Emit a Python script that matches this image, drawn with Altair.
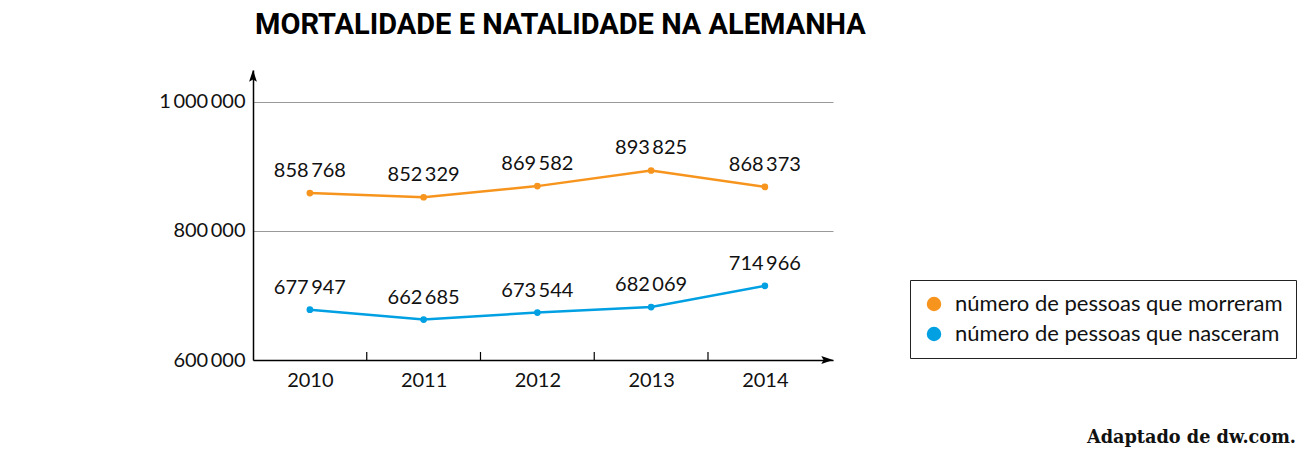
import altair as alt
import pandas as pd

years = [2010, 2011, 2012, 2013, 2014]
deaths = [858768, 852329, 869582, 893825, 868373]
births = [677947, 662685, 673544, 682069, 714966]
series_names = ["número de pessoas que morreram", "número de pessoas que nasceram"]
series_colors = ["#F7941D", "#00A0E3"]
boundaries = [2010.5, 2011.5, 2012.5, 2013.5]

TS = "\u2009"


def fmt(v):
    return f"{v:,}".replace(",", TS)


rows = []
for y, d, b in zip(years, deaths, births):
    rows.append({"ano": y, "valor": d, "serie": series_names[0], "rot": fmt(d)})
    rows.append({"ano": y, "valor": b, "serie": series_names[1], "rot": fmt(b)})
df = pd.DataFrame(rows)

W = 580
H = 290
FONT = "Lato"

xs = alt.Scale(domain=[2009.5, 2014.599], nice=False, zero=False)
ys = alt.Scale(domain=[600000, 1049612], nice=False, zero=False)
cs = alt.Scale(domain=series_names, range=series_colors)

legend = alt.Legend(
    title=None,
    orient="none",
    legendX=657,
    legendY=210,
    symbolType="circle",
    symbolSize=210,
    symbolStrokeWidth=0,
    labelFont=FONT,
    labelFontSize=22,
    labelColor="#111",
    labelLimit=500,
    strokeColor="#222",
    fillColor="white",
    padding=13,
    rowPadding=8,
    labelOffset=10,
    symbolOpacity=1,
)

x_enc = alt.X(
    "ano:Q",
    scale=xs,
    axis=alt.Axis(
        values=years,
        format="d",
        title=None,
        ticks=False,
        grid=False,
        domainColor="black",
        domainWidth=1.5,
        labelFont=FONT,
        labelFontSize=20,
        labelColor="#111",
        labelPadding=10,
        labelFlush=False,
    ),
)
y_enc = alt.Y(
    "valor:Q",
    scale=ys,
    axis=alt.Axis(
        values=[600000, 800000, 1000000],
        title=None,
        ticks=False,
        grid=True,
        gridColor="#999",
        gridWidth=1.2,
        domainColor="black",
        domainWidth=1.5,
        labelFont=FONT,
        labelFontSize=20,
        labelColor="#111",
        labelPadding=8,
        labelExpr="replace(replace(format(datum.value, ','), ',', '\u2009'), ',', '\u2009')",
    ),
)

base = alt.Chart(df)

lines = base.mark_line(strokeWidth=2.5).encode(
    x=x_enc, y=y_enc, color=alt.Color("serie:N", scale=cs, legend=None)
)
points = base.mark_circle(size=45, opacity=1).encode(
    x="ano:Q", y="valor:Q", color=alt.Color("serie:N", scale=cs, legend=legend)
)
labels = base.mark_text(
    font=FONT, fontSize=20, color="#111", dy=-22, baseline="middle"
).encode(x="ano:Q", y="valor:Q", text="rot:N")

ticks = (
    alt.Chart(pd.DataFrame({"b": boundaries}))
    .mark_rule(color="black", strokeWidth=1.2)
    .encode(x=alt.X("b:Q"), y=alt.value(H), y2=alt.value(H - 8))
)

arrow_up = (
    alt.Chart(pd.DataFrame({"a": [0]}))
    .mark_point(shape="M0,-1L0.6,0.8L0,0.45L-0.6,0.8Z", filled=True, color="black", size=170, opacity=1)
    .encode(x=alt.value(0), y=alt.value(6.5))
)
arrow_right = (
    alt.Chart(pd.DataFrame({"a": [0]}))
    .mark_point(shape="M1,0L-0.8,0.6L-0.45,0L-0.8,-0.6Z", filled=True, color="black", size=170, opacity=1)
    .encode(x=alt.value(W - 6.5), y=alt.value(H))
)

footer = (
    alt.Chart(pd.DataFrame({"t": ["Adaptado de dw.com."]}))
    .mark_text(font="DejaVu Serif", fontWeight="bold", fontSize=17.7, align="right", baseline="middle", color="#111")
    .encode(text="t:N", x=alt.value(1043), y=alt.value(368))
)

chart = (
    alt.layer(lines, points, labels, ticks, arrow_up, arrow_right, footer)
    .resolve_scale(color="independent")
    .properties(
        width=W,
        height=H,
        title=alt.Title(
            "MORTALIDADE E NATALIDADE NA ALEMANHA",
            anchor="start",
            frame="group",
            font="Roboto",
            fontSize=29,
            fontWeight="bold",
            color="black",
            offset=30,
            dx=2,
        ),
        autosize=alt.AutoSizeParams(type="none"),
        padding={"left": 245, "top": 62, "right": 465, "bottom": 93},
    )
    .configure_view(stroke=None)
)

chart.save("out.html", embed_options={"renderer": "svg", "actions": False})
